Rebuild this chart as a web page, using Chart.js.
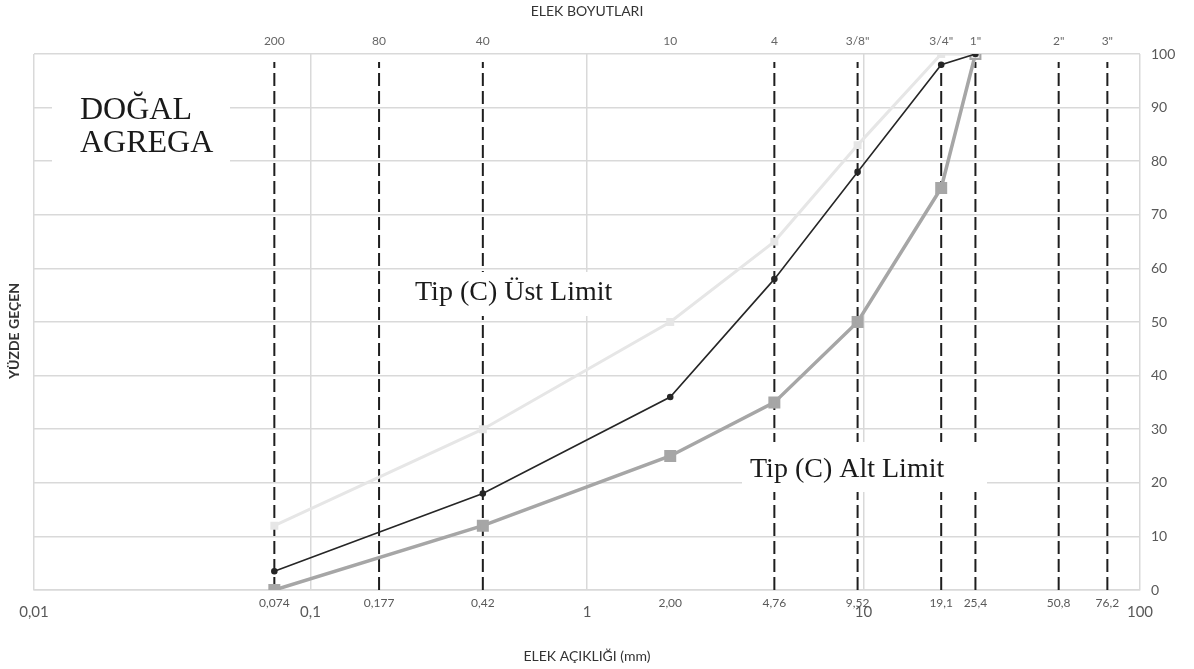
<!DOCTYPE html>
<html>
<head>
<meta charset="utf-8">
<title>Elek Analizi</title>
<script src="https://cdn.jsdelivr.net/npm/chart.js@4.4.0/dist/chart.umd.min.js"></script>
<style>
  html, body { margin: 0; padding: 0; background: #fff; }
  #wrap { width: 1194px; height: 669px; position: relative; }
</style>
</head>
<body>
<div id="wrap"><canvas id="chart" width="1194" height="669"></canvas></div>
<script>
// Sieve openings (mm), their printed sizes and sieve names
const sieveSizes = [0.074, 0.177, 0.42, 2.00, 4.76, 9.52, 19.1, 25.4, 50.8, 76.2];
const sieveSizeLabels = ['0,074', '0,177', '0,42', '2,00', '4,76', '9,52', '19,1', '25,4', '50,8', '76,2'];
const sieveNames = ['200', '80', '40', '10', '4', '3/8"', '3/4"', '1"', '2"', '3"'];
// Sieves marked with a dashed vertical line
const dashedSieves = [0.074, 0.177, 0.42, 4.76, 9.52, 19.1, 25.4, 50.8, 76.2];

const decadeTicks = [0.01, 0.1, 1, 10, 100];
const decadeLabels = ['0,01', '0,1', '1', '10', '100'];

// Percent passing for each sieve
const gradingSieves = [0.074, 0.42, 2.00, 4.76, 9.52, 19.1, 25.4];
const naturalAggregate = [3.5, 18, 36, 58, 78, 98, 100];
const upperLimit = [12, 30, 50, 65, 83, 100, 100];
const lowerLimit = [0, 12, 25, 35, 50, 75, 100];

const FONT = 'Lato, "Open Sans", sans-serif';
const GRID = '#d9d9d9';
const TICK = '#595959';

function toPoints(xs, ys) {
    return xs.map((x, i) => ({ x: x, y: ys[i] }));
}

function fixedTicks(values) {
    return function(scale) {
        scale.ticks = values.map(v => ({ value: v }));
    };
}

const datasets = [
    {
        label: 'Doğal agrega',
        data: toPoints(gradingSieves, naturalAggregate),
        borderColor: '#262626',
        backgroundColor: '#262626',
        borderWidth: 1.6,
        pointRadius: 2.5,
        pointStyle: 'circle'
    },
    {
        label: 'Tip (C) Üst Limit',
        data: toPoints(gradingSieves, upperLimit),
        borderColor: '#e6e6e6',
        backgroundColor: '#e6e6e6',
        borderWidth: 3,
        pointRadius: 3.5,
        pointStyle: 'rect'
    },
    {
        label: 'Tip (C) Alt Limit',
        data: toPoints(gradingSieves, lowerLimit),
        borderColor: '#a6a6a6',
        backgroundColor: '#a6a6a6',
        borderWidth: 3.5,
        pointRadius: 6,
        pointStyle: 'rect'
    }
];

// one dashed line per sieve, from 0 up to just under the top
dashedSieves.forEach(v => {
    datasets.push({
        label: 'elek ' + v,
        data: [{ x: v, y: 0 }, { x: v, y: 98.5 }],
        borderColor: '#1e1e1e',
        borderWidth: 2,
        borderDash: [13, 5],
        pointRadius: 0
    });
});

// Sieve opening sizes written just under the x axis
const sieveSizeText = {
    id: 'sieveSizeText',
    afterDraw(chart) {
        const ctx = chart.ctx;
        const xs = chart.scales.x;
        const base = chart.chartArea.bottom;
        ctx.save();
        ctx.fillStyle = TICK;
        ctx.font = '12px ' + FONT;
        ctx.textAlign = 'center';
        ctx.textBaseline = 'middle';
        sieveSizes.forEach((v, i) => {
            ctx.fillText(sieveSizeLabels[i], xs.getPixelForValue(v), base + 13);
        });
        ctx.restore();
    }
};

// Text boxes and the left-hand axis caption
const notes = {
    id: 'notes',
    afterDatasetsDraw(chart) {
        const ctx = chart.ctx;
        ctx.save();
        ctx.fillStyle = '#ffffff';
        ctx.fillRect(52, 82, 178, 84);
        ctx.fillRect(395, 272, 240, 44);
        ctx.fillRect(742, 442, 245, 50);

        ctx.fillStyle = '#1a1a1a';
        ctx.textBaseline = 'alphabetic';
        ctx.font = '32px "Liberation Serif", serif';
        ctx.fillText('DOĞAL', 80, 119);
        ctx.fillText('AGREGA', 80, 152);
        ctx.font = '28px "Liberation Serif", serif';
        ctx.fillText('Tip (C) Üst Limit', 415, 300);
        ctx.fillText('Tip (C) Alt Limit', 750, 477);

        ctx.translate(14, 331);
        ctx.rotate(-Math.PI / 2);
        ctx.textAlign = 'center';
        ctx.textBaseline = 'middle';
        ctx.fillStyle = '#333333';
        ctx.font = 'bold 14px ' + FONT;
        ctx.fillText('YÜZDE GEÇEN', 0, 0);
        ctx.restore();
    }
};

const ctx = document.getElementById('chart').getContext('2d');
new Chart(ctx, {
    type: 'line',
    data: { datasets: datasets },
    plugins: [notes, sieveSizeText],
    options: {
        responsive: false,
        animation: false,
        layout: { padding: { left: 34, top: 0, right: 0, bottom: 0 } },
        plugins: {
            legend: { display: false },
            tooltip: { enabled: false }
        },
        scales: {
            x: {
                type: 'logarithmic',
                position: 'bottom',
                min: 0.01,
                max: 100,
                afterBuildTicks: fixedTicks(decadeTicks),
                afterFit: s => { s.height = 79; },
                grid: { color: GRID, lineWidth: 1.5, drawTicks: false },
                border: { color: GRID, width: 1.5 },
                ticks: {
                    autoSkip: false,
                    maxRotation: 0,
                    padding: 13,
                    color: TICK,
                    font: { family: FONT, size: 15 },
                    callback: (v, i) => decadeLabels[i]
                },
                title: {
                    display: true,
                    text: 'ELEK AÇIKLIĞI (mm)',
                    color: '#333333',
                    font: { family: FONT, size: 14 },
                    padding: { top: 0, bottom: 4 }
                }
            },
            top: {
                type: 'logarithmic',
                position: 'top',
                min: 0.01,
                max: 100,
                afterBuildTicks: fixedTicks(sieveSizes),
                afterFit: s => { s.height = 54; },
                grid: { display: false, drawTicks: false },
                border: { display: false },
                ticks: {
                    autoSkip: false,
                    maxRotation: 0,
                    padding: 6,
                    color: '#666666',
                    font: { family: FONT, size: 12 },
                    callback: (v, i) => sieveNames[i]
                },
                title: {
                    display: true,
                    text: 'ELEK BOYUTLARI',
                    color: '#333333',
                    font: { family: FONT, size: 14 },
                    padding: { top: 3, bottom: 0 }
                }
            },
            y: {
                position: 'right',
                min: 0,
                max: 100,
                afterFit: s => { s.width = 54; },
                grid: { color: GRID, lineWidth: 1.5, drawTicks: false },
                border: { display: false },
                ticks: {
                    stepSize: 10,
                    padding: 11,
                    color: TICK,
                    font: { family: FONT, size: 14 }
                }
            }
        }
    }
});
</script>
</body>
</html>
